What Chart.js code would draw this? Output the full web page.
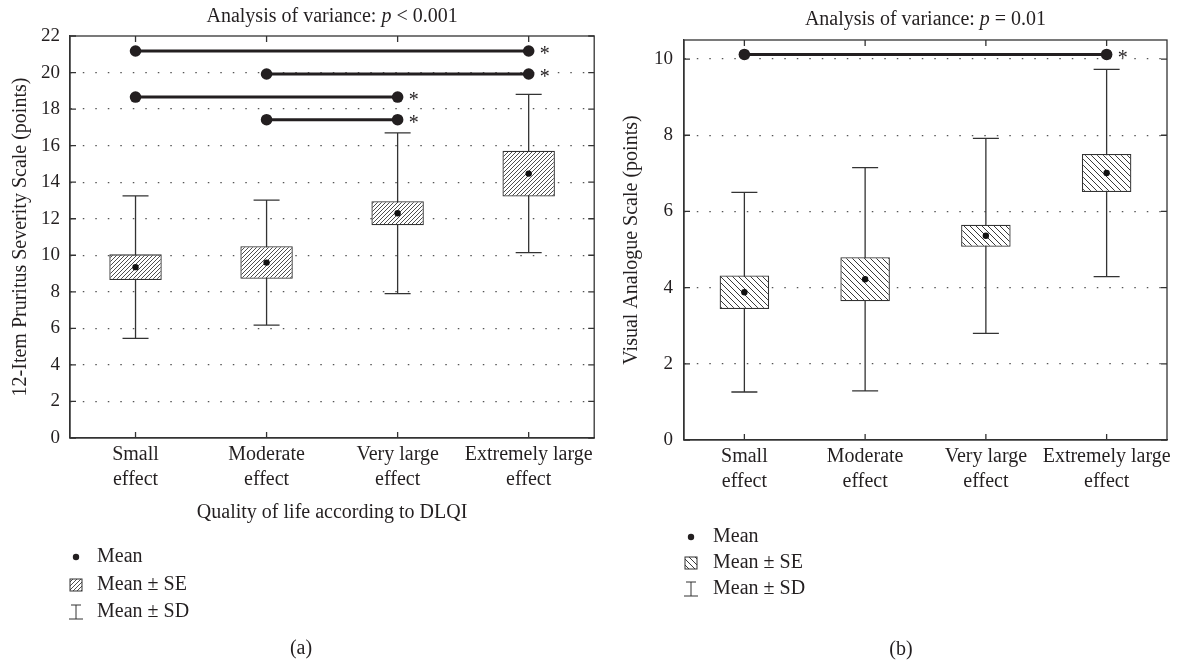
<!DOCTYPE html>
<html>
<head>
<meta charset="utf-8">
<script src="https://cdn.jsdelivr.net/npm/chart.js@4.4.0/dist/chart.umd.min.js"></script>
<style>
  body { margin: 0; background: #fff; }
  #wrap { position: relative; width: 1181px; height: 661px; }
  .panel { position: absolute; top: 0; height: 661px; }
</style>
</head>
<body>
<div id="wrap">
  <div class="panel" style="left:0;width:600px"><canvas id="chart-a" width="600" height="661"></canvas></div>
  <div class="panel" style="left:600px;width:581px"><canvas id="chart-b" width="581" height="661"></canvas></div>
</div>
<script>
const categories = [['Small', 'effect'], ['Moderate', 'effect'], ['Very large', 'effect'], ['Extremely large', 'effect']];

// (a) 12-Item Pruritus Severity Scale
const pssMean = [9.35, 9.6, 12.3, 14.47];
const pssSE = [0.7, 0.89, 0.66, 1.25];
const pssSD = [3.9, 3.42, 4.4, 4.33];
const pssTicks = [0, 2, 4, 6, 8, 10, 12, 14, 16, 18, 20, 22];
// significant pairs: [from, to, level]
const pssPairs = [[0, 3, 21.18], [1, 3, 19.92], [0, 2, 18.66], [1, 2, 17.42]];

// (b) Visual Analogue Scale
const vasMean = [3.88, 4.22, 5.36, 7.01];
const vasSE = [0.44, 0.58, 0.29, 0.5];
const vasSD = [2.62, 2.93, 2.56, 2.72];
const vasTicks = [0, 2, 4, 6, 8, 10];
const vasPairs = [[0, 3, 10.12]];

const SERIF = "'Liberation Serif', 'DejaVu Serif', serif";
const INK = '#231f20';

function hatch(size, forward, lw) {
  const c = document.createElement('canvas');
  c.width = c.height = size;
  const g = c.getContext('2d');
  g.fillStyle = '#fff';
  g.fillRect(0, 0, size, size);
  g.strokeStyle = '#3a3a3a';
  g.lineWidth = lw;
  g.beginPath();
  if (forward) {
    g.moveTo(-1, size + 1); g.lineTo(size + 1, -1);
    g.moveTo(-1, 1); g.lineTo(1, -1);
    g.moveTo(size - 1, size + 1); g.lineTo(size + 1, size - 1);
  } else {
    g.moveTo(-1, -1); g.lineTo(size + 1, size + 1);
    g.moveTo(-1, size - 1); g.lineTo(1, size + 1);
    g.moveTo(size - 1, -1); g.lineTo(size + 1, 1);
  }
  g.stroke();
  return g.createPattern(c, 'repeat');
}

function makeDecor(cfg) {
  return {
    id: 'decor',
    beforeDatasetsDraw(chart) {
      // Mean ± SD whiskers
      const { ctx, scales: { x, y } } = chart;
      ctx.save();
      ctx.strokeStyle = '#333';
      ctx.lineWidth = 1.3;
      cfg.mean.forEach((m, i) => {
        const px = x.getPixelForValue(i);
        const top = y.getPixelForValue(m + cfg.sd[i]);
        const bot = y.getPixelForValue(m - cfg.sd[i]);
        ctx.beginPath();
        ctx.moveTo(px, top); ctx.lineTo(px, bot);
        ctx.moveTo(px - 13, top); ctx.lineTo(px + 13, top);
        ctx.moveTo(px - 13, bot); ctx.lineTo(px + 13, bot);
        ctx.stroke();
      });
      ctx.restore();
    },
    afterDatasetsDraw(chart) {
      // asterisks after each comparison line
      const { ctx } = chart;
      ctx.save();
      ctx.fillStyle = INK;
      ctx.font = '20px ' + SERIF;
      ctx.textBaseline = 'middle';
      chart.data.datasets.forEach((ds, k) => {
        if (!ds.pair) return;
        const pt = chart.getDatasetMeta(k).data[ds.pair[1]];
        ctx.fillText('*', pt.x + 11, pt.y + 4);
      });
      ctx.restore();
    },
    afterDraw(chart) {
      const { ctx, chartArea: a, scales: { x, y } } = chart;
      ctx.save();
      // frame and inward ticks
      ctx.strokeStyle = '#333';
      ctx.lineWidth = 1.3;
      ctx.strokeRect(a.left, a.top, a.right - a.left, a.bottom - a.top);
      ctx.beginPath();
      cfg.ticks.forEach(v => {
        const py = y.getPixelForValue(v);
        ctx.moveTo(a.left, py); ctx.lineTo(a.left + 6, py);
        ctx.moveTo(a.right, py); ctx.lineTo(a.right - 6, py);
      });
      categories.forEach((c, i) => {
        const px = x.getPixelForValue(i);
        ctx.moveTo(px, a.bottom); ctx.lineTo(px, a.bottom - 6);
        ctx.moveTo(px, a.top); ctx.lineTo(px, a.top + 6);
      });
      ctx.stroke();

      // title with italic p
      ctx.fillStyle = INK;
      ctx.textBaseline = 'middle';
      const parts = [['Analysis of variance: ', ''], ['p', 'italic '], [cfg.pText, '']];
      let w = 0;
      parts.forEach(p => { ctx.font = p[1] + '20px ' + SERIF; w += ctx.measureText(p[0]).width; });
      let tx = (a.left + a.right) / 2 - w / 2;
      parts.forEach(p => {
        ctx.font = p[1] + '20px ' + SERIF;
        ctx.fillText(p[0], tx, cfg.titleY);
        tx += ctx.measureText(p[0]).width;
      });

      // legend
      const L = cfg.legend;
      ctx.font = '20px ' + SERIF;
      ctx.fillText('Mean', L.textX, L.rows[0]);
      ctx.fillText('Mean \u00b1 SE', L.textX, L.rows[1]);
      ctx.fillText('Mean \u00b1 SD', L.textX, L.rows[2]);
      ctx.beginPath();
      ctx.arc(L.iconX, L.rows[0], 3.2, 0, Math.PI * 2);
      ctx.fill();
      ctx.fillStyle = cfg.pattern;
      ctx.fillRect(L.iconX - 6, L.rows[1] - 6, 12, 12);
      ctx.lineWidth = 1;
      ctx.strokeRect(L.iconX - 6, L.rows[1] - 6, 12, 12);
      ctx.beginPath();
      const ty = L.rows[2];
      ctx.moveTo(L.iconX - 5, ty - 7); ctx.lineTo(L.iconX + 5, ty - 7);
      ctx.moveTo(L.iconX, ty - 7); ctx.lineTo(L.iconX, ty + 7);
      ctx.moveTo(L.iconX - 7, ty + 7); ctx.lineTo(L.iconX + 7, ty + 7);
      ctx.stroke();

      // panel label
      ctx.fillStyle = INK;
      ctx.textAlign = 'center';
      ctx.fillText(cfg.panel, cfg.panelX, cfg.panelY);
      ctx.restore();
    }
  };
}

function buildChart(id, cfg) {
  const pattern = cfg.pattern;
  const datasets = [{
    type: 'line',
    data: cfg.mean,
    showLine: false,
    pointRadius: 3.2,
    pointBackgroundColor: '#111',
    pointBorderWidth: 0,
    order: 0
  }];
  cfg.pairs.forEach(([from, to, level]) => {
    const row = categories.map((c, i) => (i === from || i === to ? level : null));
    datasets.push({
      type: 'line',
      data: row,
      pair: [from, to],
      spanGaps: true,
      borderColor: INK,
      borderWidth: 3,
      pointRadius: 5.8,
      pointBackgroundColor: INK,
      pointBorderWidth: 0,
      order: 1
    });
  });
  datasets.push({
    type: 'bar',
    data: cfg.mean.map((m, i) => [m - cfg.se[i], m + cfg.se[i]]),
    backgroundColor: pattern,
    borderColor: '#333',
    borderWidth: 1.3,
    borderSkipped: false,
    barPercentage: cfg.barPct,
    categoryPercentage: 1,
    order: 2
  });

  return new Chart(document.getElementById(id), {
    type: 'bar',
    data: { labels: categories, datasets },
    options: {
      responsive: false,
      animation: false,
      events: [],
      layout: { padding: cfg.padding },
      plugins: { legend: { display: false }, title: { display: false }, tooltip: { enabled: false } },
      scales: {
        x: {
          offset: true,
          grid: { display: false, drawTicks: false },
          border: { display: true, color: '#333', width: 1.3 },
          ticks: {
            color: INK, padding: 4, autoSkip: false, maxRotation: 0,
            font: { family: SERIF, size: 20, lineHeight: 1.25 }
          },
          title: {
            display: !!cfg.xTitle,
            text: cfg.xTitle || '',
            color: INK,
            font: { family: SERIF, size: 20 },
            padding: { top: 0, bottom: 13 }
          },
          afterFit(s) { s.height = 100; }
        },
        y: {
          min: 0,
          max: cfg.max,
          afterBuildTicks(s) { s.ticks = cfg.ticks.map(v => ({ value: v })); },
          grid: {
            drawTicks: false,
            lineWidth: 1.2,
            color: c => (c.tick && (c.tick.value === 0 || c.tick.value >= cfg.max) ? 'rgba(0,0,0,0)' : '#555')
          },
          border: { display: true, color: '#333', width: 1.3, dash: [1.5, 11] },
          ticks: { color: INK, padding: cfg.tickPad, font: { family: SERIF, size: 19 } },
          title: {
            display: true,
            text: cfg.yTitle,
            color: INK,
            font: { family: SERIF, size: 20 },
            padding: { top: cfg.yTitlePad, bottom: 0 }
          },
          afterFit(s) { s.width = cfg.yWidth; }
        }
      }
    },
    plugins: [makeDecor(cfg)]
  });
}

buildChart('chart-a', {
  mean: pssMean, se: pssSE, sd: pssSD, ticks: pssTicks, pairs: pssPairs, max: 22,
  pattern: hatch(4, true, 0.9), barPct: 0.4,
  padding: { left: 0, top: 36, right: 5, bottom: 123 },
  yWidth: 70, tickPad: 10, yTitlePad: 9,
  yTitle: '12-Item Pruritus Severity Scale (points)',
  xTitle: 'Quality of life according to DLQI',
  pText: ' < 0.001', titleY: 17,
  legend: { iconX: 76, textX: 97, rows: [557, 585, 612] },
  panel: '(a)', panelX: 301, panelY: 649
});

buildChart('chart-b', {
  mean: vasMean, se: vasSE, sd: vasSD, ticks: vasTicks, pairs: vasPairs, max: 10.5,
  pattern: hatch(6, false, 1), barPct: 0.41,
  padding: { left: 0, top: 40, right: 14, bottom: 121 },
  yWidth: 84, tickPad: 11, yTitlePad: 20,
  yTitle: 'Visual Analogue Scale (points)',
  xTitle: null,
  pText: ' = 0.01', titleY: 20,
  legend: { iconX: 91, textX: 113, rows: [537, 563, 589] },
  panel: '(b)', panelX: 301, panelY: 650
});
</script>
</body>
</html>
